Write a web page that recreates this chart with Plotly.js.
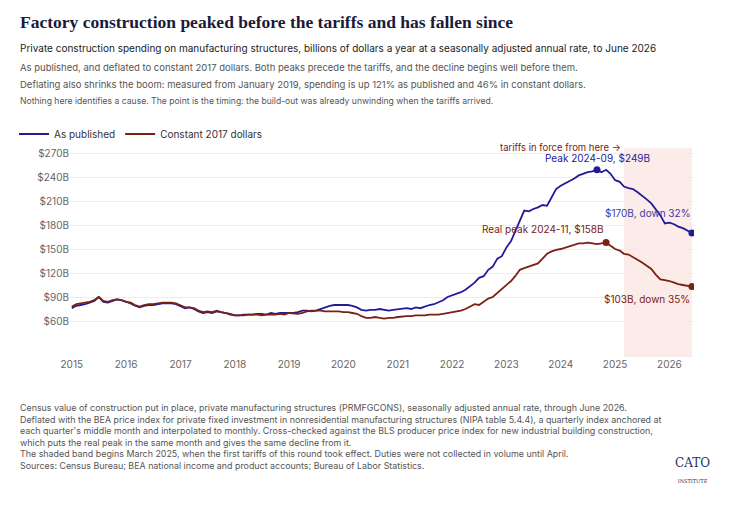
<!DOCTYPE html>
<html><head><meta charset="utf-8">
<script src="https://cdn.plot.ly/plotly-3.0.1.min.js"></script>
<style>body{margin:0;background:#fff}#c{width:738px;height:512px}</style>
</head><body><div id="c"></div>
<script>
const startYear = 2015;
const nominal = [
76,79,80,81,83,85,90,84,83,85,87,86,
84,82,79,77,79,80,80,81,82,82,82,81,
78,76,77,75,72,70,71,70,72,71,70,69,
67,67,68,68,68,69,69,68,70,69,70,70,
70,70,71,73,73,72,73,75,77,79,80,80,
80,80,79,77,74,73,74,74,75,74,73,74,
75,76,76,75,77,76,78,80,81,83,86,90,
92,94,96,99,103,108,114,116,124,128,138,141,
152,160,172,185,198,197,200,202,205,204,215,225,
229,232,235,238,242,244,246,247,249,246,249,244,
236,234,228,226,225,221,216,212,207,200,192,182,
183,181,178,176,173,170];
const real = [
78,81,82,83,84,86,90,85,84,86,87,86,
84,83,80,78,80,81,81,82,83,83,83,82,
79,77,77,76,73,71,72,71,73,71,70,68,
67,67,67,68,68,68,67,68,68,68,69,68,
70,69,69,70,72,73,73,73,72,72,72,72,
71,71,70,69,66,64,64,65,64,63,64,64,
65,66,66,66,67,67,67,68,68,68,69,70,
71,72,73,75,78,81,80,84,88,90,95,100,
105,110,116,124,126,128,130,132,138,144,147,149,
150,152,154,156,157,157,158,157,156,157,158,154,
150,148,144,143,140,137,133,129,125,118,112,111,
110,108,106,105,104,103];
const yearTicks = [2015,2016,2017,2018,2019,2020,2021,2022,2023,2024,2025,2026];
const yTicks = [60,90,120,150,180,210,240,270];
const dates = nominal.map((_, i) => {
  const y = startYear + Math.floor(i/12), m = i%12 + 1;
  return y + '-' + String(m).padStart(2,'0') + '-01';
});
const last = dates.length - 1;
const blue = '#231a9a', red = '#7b2113';
const F = 'Inter, "Open Sans", sans-serif';
const py = px => (357 - px) / 212;
const px = p => (p - 70) / 624;
const traces = [
 {x: dates, y: nominal, name: 'As published', mode: 'lines', line: {color: blue, width: 1.8}},
 {x: dates, y: real, name: 'Constant 2017 dollars', mode: 'lines', line: {color: red, width: 1.8}},
 {x: [dates[116], dates[last]], y: [nominal[116], nominal[last]], mode: 'markers', marker: {color: blue, size: 7}, showlegend: false, hoverinfo: 'skip'},
 {x: [dates[118], dates[last]], y: [real[118], real[last]], mode: 'markers', marker: {color: red, size: 7}, showlegend: false, hoverinfo: 'skip'}
];
const txt = (t, ypx, size, color, extra) => Object.assign({xref: 'paper', yref: 'paper', x: px(18), y: py(ypx), xanchor: 'left', yanchor: 'middle', text: t, showarrow: false, font: {family: F, size: size, color: color}}, extra || {});
const layout = {
 width: 738, height: 512, margin: {l: 70, r: 44, t: 145, b: 155},
 paper_bgcolor: '#fff', plot_bgcolor: '#fff', showlegend: true,
 legend: {orientation: 'h', x: px(14), y: py(134), xanchor: 'left', yanchor: 'middle', font: {family: F, size: 10, color: '#333'}},
 xaxis: {type: 'date', range: ['2014-12-20', '2026-06-15'], tickvals: yearTicks.map(y => y + '-01-01'), ticktext: yearTicks.map(String), showgrid: false, zeroline: false, showline: false, ticks: '', tickfont: {family: F, size: 10, color: '#666'}},
 yaxis: {range: [15, 280], tickvals: yTicks, ticktext: yTicks.map(v => '$' + v + 'B'), gridcolor: '#ececec', zeroline: false, tickfont: {family: F, size: 10, color: '#666'}},
 shapes: [{type: 'rect', xref: 'x', yref: 'paper', x0: '2025-03-01', x1: dates[last], y0: 0, y1: 0.985, fillcolor: '#fbe6e2', opacity: 0.75, line: {width: 0}, layer: 'below'}],
 annotations: [
  txt('<b>Factory construction peaked before the tariffs and has fallen since</b>', 22, 17.5, '#1a1a3a', {font: {family: '"Liberation Serif", serif', size: 17.5, color: '#1a1a3a'}}),
  txt('Private construction spending on manufacturing structures, billions of dollars a year at a seasonally adjusted annual rate, to June 2026', 48, 10, '#222'),
  txt('As published, and deflated to constant 2017 dollars. Both peaks precede the tariffs, and the decline begins well before them.', 67, 9.5, '#555'),
  txt('Deflating also shrinks the boom: measured from January 2019, spending is up 121% as published and 46% in constant dollars.', 84, 9.5, '#555'),
  txt('Nothing here identifies a cause. The point is the timing: the build-out was already unwinding when the tariffs arrived.', 101, 8.6, '#555'),
  txt('Census value of construction put in place, private manufacturing structures (PRMFGCONS), seasonally adjusted annual rate, through June 2026.<br>Deflated with the BEA price index for private fixed investment in nonresidential manufacturing structures (NIPA table 5.4.4), a quarterly index anchored at<br>each quarter\'s middle month and interpolated to monthly. Cross-checked against the BLS producer price index for new industrial building construction,<br>which puts the real peak in the same month and gives the same decline from it.<br>The shaded band begins March 2025, when the first tariffs of this round took effect. Duties were not collected in volume until April.<br>Sources: Census Bureau; BEA national income and product accounts; Bureau of Labor Statistics.', 436, 8.9, '#555', {yanchor: 'middle', align: 'left'}),
  {xref: 'paper', yref: 'paper', x: px(712), y: py(486), text: 'CATO<br><span style="font-size:5px">INSTITUTE</span>', showarrow: false, xanchor: 'right', font: {family: '"DejaVu Serif", serif', size: 12, color: '#223366'}},
  {xref: 'x', yref: 'paper', x: '2025-02-20', y: py(140), text: 'tariffs in force from here \u2192', xanchor: 'right', showarrow: false, font: {family: F, size: 9.5, color: '#7b2113'}},
  {x: dates[116], y: nominal[116], text: 'Peak 2024-09, $249B', yshift: 12, showarrow: false, font: {family: F, size: 10, color: blue}},
  {x: dates[last], y: 195, text: '$170B, down 32%', xanchor: 'right', showarrow: false, font: {family: F, size: 10, color: '#3a3aa8'}},
  {x: dates[118], y: real[118], text: 'Real peak 2024-11, $158B', xanchor: 'right', yshift: 14, xshift: 0, showarrow: false, font: {family: F, size: 10, color: '#7b2113'}},
  {x: dates[last], y: 88, text: '$103B, down 35%', xanchor: 'right', showarrow: false, font: {family: F, size: 10, color: '#7b2113'}}
 ]
};
Plotly.newPlot('c', traces, layout, {displayModeBar: false, staticPlot: true});
</script></body></html>
